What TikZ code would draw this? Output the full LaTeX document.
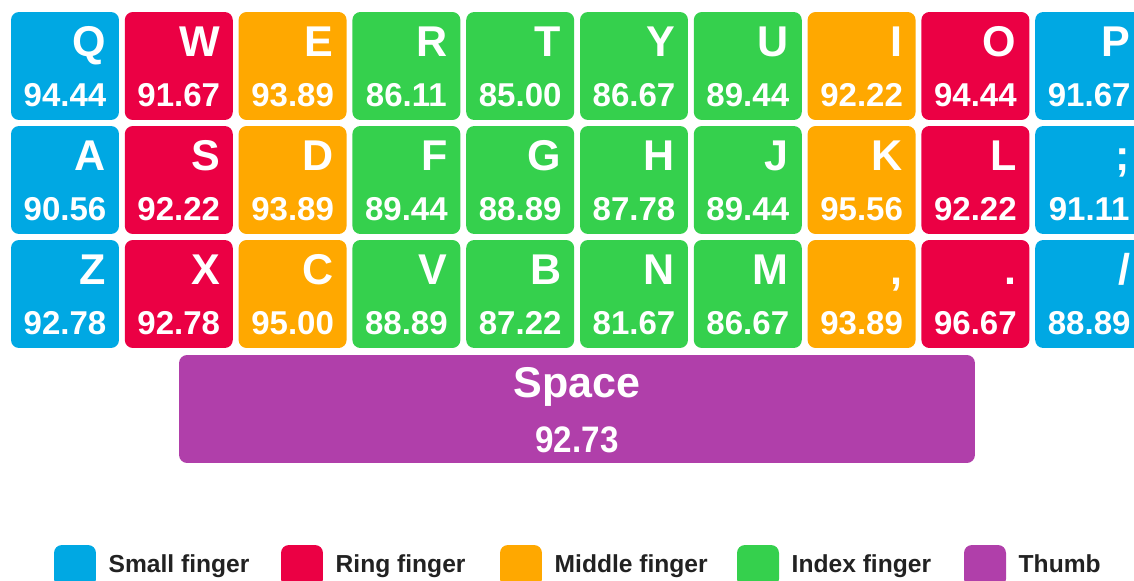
\documentclass[tikz,border=0pt]{standalone}
\usepackage{fontspec}
\setsansfont{Liberation Sans}
\newfontfamily\spacenumfont[FakeStretch=0.9]{Liberation Sans}
\usetikzlibrary{positioning}

\definecolor{fsmall}{RGB}{0,168,227}
\definecolor{fring}{RGB}{235,0,68}
\definecolor{fmiddle}{RGB}{255,168,0}
\definecolor{findex}{RGB}{53,208,77}
\definecolor{fthumb}{RGB}{176,63,170}
\definecolor{legendtext}{RGB}{34,34,34}

\begin{document}
\begin{tikzpicture}[
    x=0.02cm, y=-0.02cm,
    key/.style={rounded corners=0.16cm, minimum width=2.16cm, minimum height=2.16cm, inner sep=0pt},
    letter/.style={anchor=base east, text=white, inner sep=0pt, font=\sffamily\bfseries\fontsize{24.5}{28}\selectfont},
    score/.style={anchor=base, text=white, inner sep=0pt, font=\sffamily\bfseries\fontsize{18.8}{22}\selectfont},
    swatch/.style={rounded corners=0.16cm, minimum width=0.84cm, minimum height=0.84cm, inner sep=0pt},
    legend/.style={inner sep=0pt, text height=1.45ex, text depth=0.45ex, text=legendtext,
      font=\sffamily\bfseries\fontsize{14}{17}\selectfont}
  ]
  \useasboundingbox (0,0) rectangle (1134,581);

  % --- Top row ---
  \foreach \l/\v/\c [count=\i from 0] in {Q/94.44/fsmall, W/91.67/fring, E/93.89/fmiddle,
      R/86.11/findex, T/85.00/findex, Y/86.67/findex, U/89.44/findex,
      I/92.22/fmiddle, O/94.44/fring, P/91.67/fsmall} {
    \node[key, fill=\c] (k0-\i) at (65+\i*113.8, 66) {};
    \node[letter, xshift=-0.26cm, yshift=-0.9cm] (l0-\i) at (k0-\i.north east) {\l};
    \node[score, yshift=0.28cm] (v0-\i) at (k0-\i.south) {\v};
  }

  % --- Home row ---
  \foreach \l/\v/\c [count=\i from 0] in {A/90.56/fsmall, S/92.22/fring, D/93.89/fmiddle,
      F/89.44/findex, G/88.89/findex, H/87.78/findex, J/89.44/findex,
      K/95.56/fmiddle, L/92.22/fring, ;/91.11/fsmall} {
    \node[key, fill=\c] (k1-\i) at (65+\i*113.8, 180) {};
    \node[letter, xshift=-0.26cm, yshift=-0.9cm] (l1-\i) at (k1-\i.north east) {\l};
    \node[score, yshift=0.28cm] (v1-\i) at (k1-\i.south) {\v};
  }

  % --- Bottom row ---
  \foreach \l/\v/\c [count=\i from 0] in {Z/92.78/fsmall, X/92.78/fring, C/95.00/fmiddle,
      V/88.89/findex, B/87.22/findex, N/81.67/findex, M/86.67/findex,
      {,}/93.89/fmiddle, ./96.67/fring, {/}/88.89/fsmall} {
    \node[key, fill=\c] (k2-\i) at (65+\i*113.8, 294) {};
    \node[letter, xshift=-0.26cm, yshift=-0.9cm] (l2-\i) at (k2-\i.north east) {\l};
    \node[score, yshift=0.28cm] (v2-\i) at (k2-\i.south) {\v};
  }

  % --- Space bar ---
  \node[key, fill=fthumb, minimum width=15.92cm] (space) at (577, 409) {};
  \node[anchor=base, inner sep=0pt, text=white, yshift=-0.86cm,
    font=\sffamily\bfseries\fontsize{24.5}{28}\selectfont] (spacelbl) at (space.north) {Space};
  \node[anchor=base, inner sep=0pt, text=white, yshift=0.22cm,
    font=\spacenumfont\bfseries\fontsize{21}{25}\selectfont] (spacenum) at (space.south) {92.73};

  % --- Legend ---
  \foreach \c/\t/\x [count=\i] in {fsmall/Small finger/75, fring/Ring finger/302,
      fmiddle/Middle finger/521, findex/Index finger/758, fthumb/Thumb/985} {
    \node[swatch, fill=\c] (sw\i) at (\x, 566) {};
    \node[legend, right=0.24cm of sw\i, yshift=-0.06cm] (lg\i) {\t};
  }

\end{tikzpicture}
\end{document}
